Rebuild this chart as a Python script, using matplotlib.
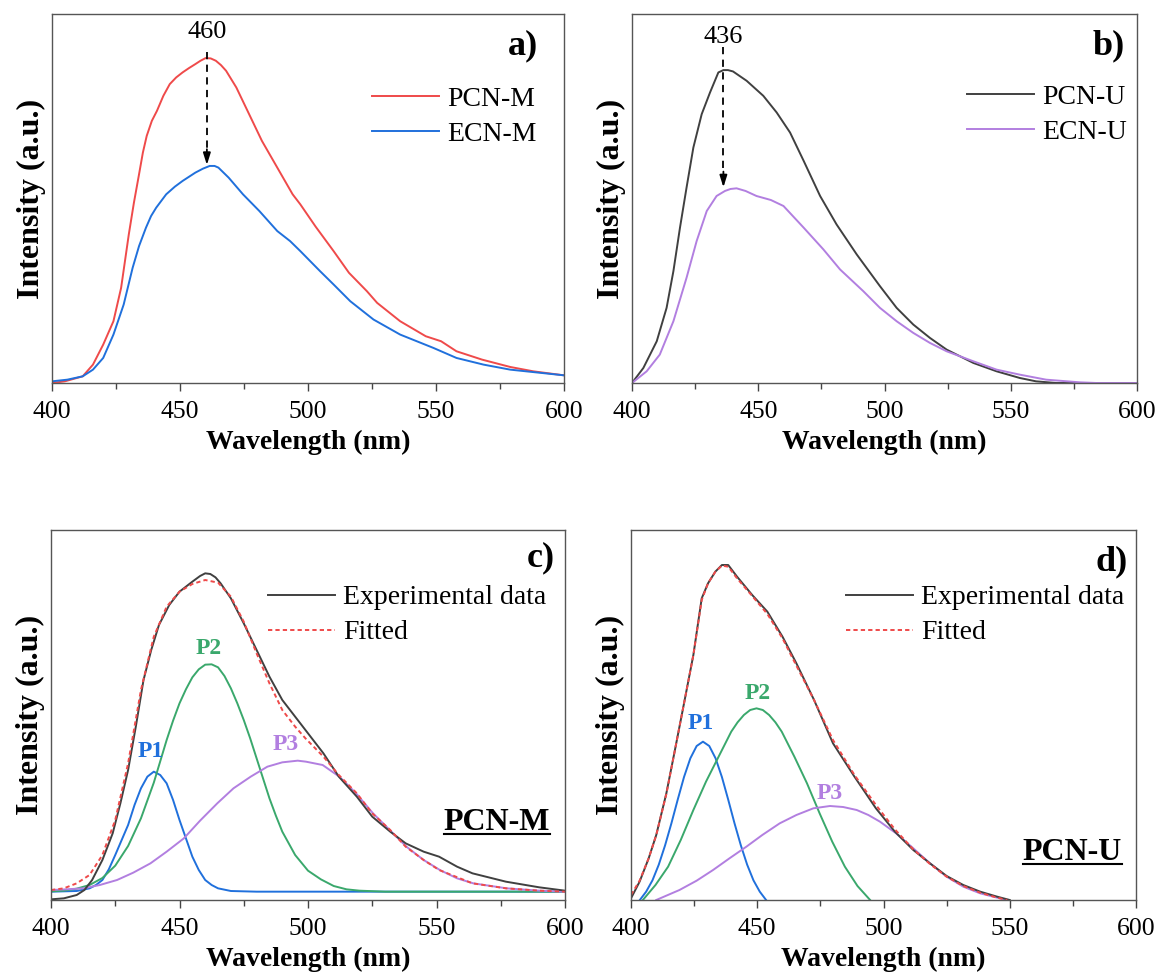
import matplotlib
matplotlib.use('Agg')
import matplotlib.pyplot as plt
from matplotlib.ticker import MultipleLocator
from matplotlib.lines import Line2D

plt.rcParams['font.family'] = ['Liberation Serif', 'DejaVu Serif']

# ---------------- data (arbitrary intensity units) -------------
# panel a
wl_pcn_m = [400, 405, 412, 416, 420, 424, 427, 430, 432, 434, 435.5, 437, 439, 441, 443.5, 446, 448.5,
            451, 453.5, 456, 458, 460, 462, 464, 466, 468, 472, 477, 482, 488, 494, 497, 503, 510, 516,
            523, 527, 536, 546, 552, 558, 568, 579, 588, 600]
pcn_m = [0, 5, 20, 55, 115, 185, 285, 445, 540, 625, 690, 740, 785, 815, 860, 895, 915,
         930, 943, 955, 965, 973, 972, 965, 952, 935, 885, 805, 725, 645, 565, 535, 468, 395, 330,
         275, 240, 185, 140, 125, 95, 70, 48, 35, 23]
wl_ecn_m = [400, 406, 412, 416, 420, 424, 428, 431.5, 434, 436.7, 438.7, 440.7, 444.6, 448, 451, 456, 459,
            461.6, 463.5, 465, 469, 474.6, 481, 488, 493, 497, 504.7, 510, 516.5, 525.6, 536, 549, 558,
            568.6, 579, 600]
ecn_m = [5, 10, 20, 40, 75, 145, 235, 345, 410, 465, 500, 525, 565, 588, 605, 630, 642,
         650, 650, 645, 615, 565, 515, 455, 425, 395, 335, 295, 245, 190, 145, 105, 75,
         55, 40, 23]

# panel b
wl_pcn_u = [400, 404.5, 409.8, 413.7, 416.4, 419, 421.6, 424.3, 427.6, 430.9, 434.2, 436.2, 438, 440,
            445.4, 452, 457.3, 462.6, 468, 474.5, 481, 489, 498.2, 504.8, 511.4, 518, 524.6, 535.2,
            544.4, 553.6, 560, 568, 580, 600]
pcn_u = [0, 45, 125, 225, 335, 465, 585, 705, 805, 870, 930, 937, 937, 933,
         905, 860, 810, 750, 665, 560, 475, 385, 290, 225, 175, 135, 100, 60,
         35, 15, 5, 0, 0, 0]
wl_ecn_u = [400, 405.8, 411, 416.4, 421.6, 425.6, 429.6, 433.5, 436.8, 439, 441.4, 445, 449.3, 455, 460,
            468, 475.8, 482.4, 491.6, 498.2, 504.8, 511.4, 518, 524.6, 535.2, 544.4, 553.6, 564, 577.4,
            584, 600]
ecn_u = [0, 35, 85, 185, 315, 425, 515, 560, 575, 581, 583, 575, 560, 548, 530,
         465, 400, 340, 275, 225, 185, 150, 120, 95, 65, 40, 25, 10, 2,
         0, 0]

# panel c (PCN-M fitting)
wl_exp_c = [400, 405, 410, 413, 416, 420, 424, 427, 430, 433, 436, 439, 442, 446, 450, 455, 458, 460,
            462, 464, 466, 470, 475, 480, 485, 490, 495, 499, 506, 512, 519, 525, 532, 538, 545, 551,
            558, 564, 577, 590, 600]
exp_c = [2, 5, 15, 30, 60, 120, 200, 290, 390, 520, 660, 750, 825, 885, 925, 955, 972, 980,
         978, 968, 950, 905, 830, 750, 670, 600, 550, 510, 440, 370, 310, 250, 205, 170, 145, 130,
         100, 80, 55, 38, 28]
wl_fit_c = [400, 405, 410, 415, 420, 425, 430, 435, 440, 445, 450, 455, 460, 465, 470, 475, 480, 485,
            490, 495, 499, 506, 512, 519, 525, 532, 538, 545, 551, 564, 577, 590, 600]
fit_c = [30, 35, 50, 75, 135, 240, 410, 630, 790, 880, 925, 948, 960, 952, 910, 835, 740, 650,
         570, 520, 485, 430, 375, 320, 260, 210, 160, 120, 90, 50, 35, 28, 25]
wl_p1_c = [400, 410, 415, 417.5, 420, 422.5, 425, 427.5, 430, 432.5, 435, 437.5, 440, 442.5, 445, 447.5,
           450, 452.5, 455, 457.5, 460, 462.5, 465, 470, 480, 600]
p1_c = [25, 27, 35, 45, 60, 92, 135, 180, 225, 285, 335, 370, 385, 375, 350, 300,
        240, 185, 130, 90, 60, 45, 35, 27, 25, 25]
wl_p2_c = [400, 405, 410, 415, 420, 425, 430, 435, 440, 445, 447.5, 450, 452.5, 455, 457.5, 460, 462.5,
           465, 467.5, 470, 472.5, 475, 477.5, 480, 482.5, 485, 487.5, 490, 495, 500, 505, 510, 515,
           520, 530, 600]
p2_c = [26, 28, 34, 45, 66, 103, 162, 245, 352, 480, 538, 590, 632, 668, 692, 706, 707,
        698, 672, 635, 590, 540, 485, 425, 365, 305, 253, 205, 135, 88, 62, 42, 32,
        28, 25, 25]
wl_p3_c = [400, 406, 412.6, 419, 425.7, 432, 438.7, 445, 451.7, 458, 464.7, 471, 477.7, 484.2, 490, 496,
           499.2, 505.7, 512.2, 518.7, 525.3, 531.8, 538.3, 545, 551.3, 558, 564.3, 577.3, 590, 600]
p3_c = [30, 32, 35, 45, 60, 82, 110, 145, 185, 238, 290, 335, 370, 400, 413, 418,
        415, 405, 370, 320, 260, 210, 160, 120, 90, 65, 50, 35, 28, 25]

# panel d (PCN-U fitting)
wl_exp_d = [400, 403.4, 407, 410, 414, 417.4, 421, 424.7, 428, 430.5, 433.4, 436, 438.5, 442, 448, 454,
            460, 465.5, 472.5, 480, 488.5, 497, 504.5, 511.8, 518.4, 525, 531.6, 538.3, 545, 550]
exp_d = [5, 55, 125, 195, 320, 450, 590, 735, 905, 950, 985, 1005, 1005, 970, 915, 865,
         790, 710, 600, 470, 370, 275, 205, 150, 110, 72, 45, 25, 10, 0]
wl_fit_d = [400, 403.4, 407, 410, 414, 417.4, 421, 424.7, 428, 430.5, 433.4, 436, 438.5, 442, 448, 454,
            460, 465.5, 472.5, 480, 488.5, 497, 504.5, 511.8, 518.4, 525, 531.6, 538.3, 545, 549]
fit_d = [15, 58, 125, 195, 318, 450, 590, 735, 900, 950, 985, 1003, 1000, 965, 912, 858,
         785, 703, 600, 480, 375, 285, 212, 152, 108, 70, 42, 22, 7, 0]
wl_p1_d = [403.5, 406, 408.5, 411, 413.5, 416, 418.5, 421, 423.5, 426, 428.5, 431, 433.5, 436, 438.5,
           441, 443.5, 446, 448.5, 451, 453.5]
p1_d = [0, 25, 59, 106, 164, 230, 301, 369, 425, 462, 475, 462, 425, 369, 301, 230, 164, 106, 59, 25, 0]
wl_p2_d = [404.7, 409.7, 414.7, 419.7, 424.7, 429.7, 434.7, 439.7, 442.2, 444.7, 447.2, 449.7, 452.2,
           454.7, 457.2, 459.7, 464.7, 469.7, 474.7, 479.7, 484.7, 489.7, 494.7]
p2_d = [0, 45, 100, 180, 270, 355, 430, 505, 533, 555, 570, 575, 570,
        555, 533, 505, 430, 350, 260, 175, 100, 42, 0]
wl_p3_d = [410, 419.2, 426, 432.5, 439, 445.7, 452, 458.9, 465.5, 472.2, 478.8, 484, 489.4, 494, 498.6,
           505, 511.8, 518.4, 525, 531.6, 538.3, 545, 549]
p3_d = [0, 30, 58, 90, 125, 160, 195, 230, 255, 275, 282, 279, 270, 255, 235,
        200, 155, 110, 70, 40, 20, 7, 0]

peak_a = 460
peak_b = 436
xticks = [400, 450, 500, 550, 600]

# ---------------- style ---------------------------------------------------------------
RED = '#ef4a4a'
BLUE = '#2070dc'
GRAY = '#404040'
PURPLE = '#b27fe0'
GREEN = '#3aa86c'
LW = 1.4
FIT_LS = (0, (2.2, 1.6))

W, H = 1165, 975
fig = plt.figure(figsize=(W / 100, H / 100), dpi=100)


def px_axes(l, t, r, b):
    return fig.add_axes([l / W, 1 - b / H, (r - l) / W, (b - t) / H])


axA = px_axes(52, 14, 564, 383)
axB = px_axes(632, 14, 1137, 383)
axC = px_axes(51, 530, 565, 900)
axD = px_axes(631, 530, 1136, 900)


def style(ax, ytop):
    ax.set_xlim(400, 600)
    ax.set_ylim(0, ytop)
    ax.set_xticks(xticks)
    ax.xaxis.set_minor_locator(MultipleLocator(25))
    ax.tick_params(axis='x', which='major', direction='out', length=6, width=1,
                   labelsize=18.5, pad=7, color='#444444')
    ax.tick_params(axis='x', which='minor', direction='out', length=4, width=1, color='#444444')
    ax.set_yticks([])
    for sp in ax.spines.values():
        sp.set_linewidth(1.0)
        sp.set_color('#555555')
    ax.set_xlabel('Wavelength (nm)', fontsize=20, fontweight='bold', labelpad=5)
    ax.set_ylabel('Intensity (a.u.)', fontsize=23, fontweight='bold', labelpad=4)


def legend(ax, x, y):
    ax.legend(loc='center left', bbox_to_anchor=(x, y), frameon=False, fontsize=20,
              handlelength=2.4, handletextpad=0.3, labelspacing=0.35, borderaxespad=0)


# panel a
axA.plot(wl_pcn_m, pcn_m, color=RED, lw=LW, label='PCN-M')
axA.plot(wl_ecn_m, ecn_m, color=BLUE, lw=LW, label='ECN-M')
style(axA, 1105)
legend(axA, 0.603, 0.722)
axA.text(0.949, 0.915, 'a)', transform=axA.transAxes, ha='right', va='center',
         fontsize=26, fontweight='bold')
tipA = max(ecn_m)
axA.plot([peak_a + 0.5, peak_a + 0.5], [990, tipA + 45], color='k', lw=1.3, ls=(0, (4, 3)))
axA.annotate('', xy=(peak_a + 0.5, tipA + 3), xytext=(peak_a + 0.5, tipA + 50),
             arrowprops=dict(arrowstyle='-|>,head_length=0.7,head_width=0.22', color='k',
                             lw=1.3, shrinkA=0, shrinkB=0))
axA.text(peak_a + 0.5, 1050, str(peak_a), ha='center', va='center', fontsize=19)

# panel b
axB.plot(wl_pcn_u, pcn_u, color=GRAY, lw=LW, label='PCN-U')
axB.plot(wl_ecn_u, ecn_u, color=PURPLE, lw=LW, label='ECN-U')
style(axB, 1105)
legend(axB, 0.642, 0.728)
axB.text(0.976, 0.915, 'b)', transform=axB.transAxes, ha='right', va='center',
         fontsize=26, fontweight='bold')
tipB = max(ecn_u)
axB.plot([peak_b + 0.2, peak_b + 0.2], [1005, tipB + 45], color='k', lw=1.3, ls=(0, (4, 3)))
axB.annotate('', xy=(peak_b + 0.2, tipB + 3), xytext=(peak_b + 0.2, tipB + 50),
             arrowprops=dict(arrowstyle='-|>,head_length=0.7,head_width=0.22', color='k',
                             lw=1.3, shrinkA=0, shrinkB=0))
axB.text(peak_b + 0.2, 1035, str(peak_b), ha='center', va='center', fontsize=19)

# panel c
axC.plot(wl_p1_c, p1_c, color=BLUE, lw=LW)
axC.plot(wl_p2_c, p2_c, color=GREEN, lw=LW)
axC.plot(wl_p3_c, p3_c, color=PURPLE, lw=LW)
axC.plot(wl_exp_c, exp_c, color=GRAY, lw=LW, label='Experimental data')
axC.plot(wl_fit_c, fit_c, color=RED, lw=LW, ls=FIT_LS, label='Fitted')
style(axC, 1110)
legend(axC, 0.401, 0.770)
axC.text(0.98, 0.924, 'c)', transform=axC.transAxes, ha='right', va='center',
         fontsize=26, fontweight='bold')
axC.text(438.7, 445, 'P1', color=BLUE, ha='center', va='center', fontsize=17, fontweight='bold')
axC.text(461.5, 755, 'P2', color=GREEN, ha='center', va='center', fontsize=17, fontweight='bold')
axC.text(491.4, 465, 'P3', color=PURPLE, ha='center', va='center', fontsize=17, fontweight='bold')
tC = axC.text(0.971, 0.189, 'PCN-M', transform=axC.transAxes, ha='right', va='baseline',
              fontsize=23, fontweight='bold')

# panel d
axD.plot(wl_p1_d, p1_d, color=BLUE, lw=LW)
axD.plot(wl_p2_d, p2_d, color=GREEN, lw=LW)
axD.plot(wl_p3_d, p3_d, color=PURPLE, lw=LW)
axD.plot(wl_exp_d, exp_d, color=GRAY, lw=LW, label='Experimental data')
axD.plot(wl_fit_d, fit_d, color=RED, lw=LW, ls=FIT_LS, label='Fitted')
style(axD, 1110)
legend(axD, 0.404, 0.770)
axD.text(0.984, 0.914, 'd)', transform=axD.transAxes, ha='right', va='center',
         fontsize=26, fontweight='bold')
axD.text(427.6, 530, 'P1', color=BLUE, ha='center', va='center', fontsize=17, fontweight='bold')
axD.text(450.0, 620, 'P2', color=GREEN, ha='center', va='center', fontsize=17, fontweight='bold')
axD.text(478.5, 320, 'P3', color=PURPLE, ha='center', va='center', fontsize=17, fontweight='bold')
tD = axD.text(0.972, 0.108, 'PCN-U', transform=axD.transAxes, ha='right', va='baseline',
              fontsize=23, fontweight='bold')

# underline the sample names
fig.canvas.draw()
renderer = fig.canvas.get_renderer()
for ax, t, yb in [(axC, tC, 0.189), (axD, tD, 0.108)]:
    bb = t.get_window_extent(renderer)
    base = ax.transAxes.transform((0, yb))[1] - 4
    x0, _ = fig.transFigure.inverted().transform((bb.x0, base))
    x1, yy = fig.transFigure.inverted().transform((bb.x1, base))
    fig.add_artist(Line2D([x0, x1], [yy, yy], color='k', lw=1.5, transform=fig.transFigure))

fig.savefig('out.png', dpi=100)
